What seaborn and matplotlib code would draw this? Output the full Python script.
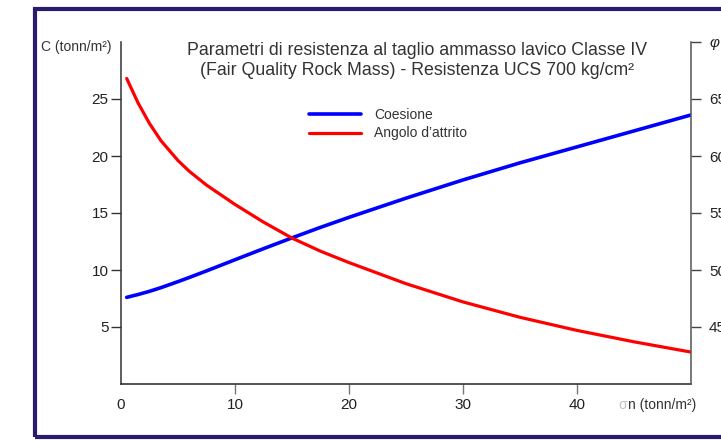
import numpy as np
import pandas as pd
import seaborn as sns
import matplotlib
matplotlib.use("Agg")
import matplotlib.pyplot as plt
from matplotlib.patches import Rectangle

# valori
sigma_n = [0.5, 1.5, 2.5, 3.5, 5, 6, 7.5, 10, 12.5, 15, 17.5, 20, 25, 30, 35, 40, 45, 50]
coesione = [7.6, 7.85, 8.13, 8.45, 8.98, 9.35, 9.92, 10.9, 11.87, 12.82, 13.74, 14.62,
            16.3, 17.9, 19.4, 20.8, 22.2, 23.6]
angolo = [66.8, 64.65, 62.85, 61.35, 59.6, 58.65, 57.45, 55.75, 54.2, 52.8, 51.65, 50.65,
          48.8, 47.2, 45.85, 44.7, 43.7, 42.8]

x_ticks = [0, 10, 20, 30, 40]
c_ticks = [5, 10, 15, 20, 25]
phi_ticks = [45, 50, 55, 60, 65, 70]
phi_labels = ["45", "50", "55", "60", "65", "φ"]

titolo = ("Parametri di resistenza al taglio ammasso lavico Classe IV\n"
          "(Fair Quality Rock Mass) - Resistenza UCS 700 kg/cm²")

df = pd.DataFrame({"sn": sigma_n, "C": coesione, "phi": angolo})

sns.set_theme(style="white")
plt.rcParams['font.family'] = ['Liberation Sans', 'DejaVu Sans']

W, H = 721, 441
fig = plt.figure(figsize=(W / 100, H / 100), dpi=100)
ax = fig.add_axes([121 / W, 1 - 384 / H, (691 - 121) / W, (384 - 42) / H])
ax2 = ax.twinx()

sns.lineplot(data=df, x="sn", y="C", ax=ax, color="#0000ff", linewidth=2.6,
             label="Coesione", legend=False, solid_joinstyle="round")
sns.lineplot(data=df, x="sn", y="phi", ax=ax2, color="#ff0000", linewidth=2.3,
             label="Angolo d’attrito", legend=False, solid_joinstyle="round")

ax.set_xlim(0, 50)
ax.set_ylim(0, 30)
ax2.set_ylim(40, 70)
ax.set_xlabel("")
ax.set_ylabel("")
ax2.set_ylabel("")

ax.set_xticks(x_ticks)
ax.set_xticklabels([str(v) for v in x_ticks])
ax.set_yticks(c_ticks)
ax.set_yticklabels([str(v) for v in c_ticks])
ax2.set_yticks(phi_ticks)
ax2.set_yticklabels(phi_labels)
ax2.get_yticklabels()[-1].set_color("#cccccc")
ax2.get_yticklabels()[-1].set_style("italic")

ax.tick_params(axis="x", direction="out", length=7, width=1.0, color="#777777",
               pad=3, labelsize=11, labelcolor="#222222", bottom=True)
ax.tick_params(axis="y", direction="out", length=7, width=1.0, color="#333333",
               pad=2, labelsize=11, labelcolor="#222222", left=True)
ax2.tick_params(axis="y", direction="out", length=7, width=1.0, color="#444444",
                pad=6, labelsize=11, labelcolor="#222222", right=True)
ax.xaxis.get_major_ticks()[0].tick1line.set_visible(False)

for a in (ax, ax2):
    a.spines["top"].set_visible(False)
    a.grid(False)
ax.spines["left"].set_color("#333333")
ax.spines["bottom"].set_color("#222222")
ax.spines["right"].set_visible(False)
ax2.spines["left"].set_visible(False)
ax2.spines["bottom"].set_visible(False)
ax2.spines["right"].set_color("#555555")
for s in ("left", "bottom"):
    ax.spines[s].set_linewidth(1.1)
ax2.spines["right"].set_linewidth(1.1)

# titolo e etichette assi
fig.text(417 / W, 1 - 42 / H, titolo, ha="center", va="top", fontsize=12.8,
         color="#333333", linespacing=1.25)
fig.text(112 / W, 1 - 47 / H, "C (tonn/m²)", ha="right", va="center",
         fontsize=10, color="#333333")
fig.text(627 / W, 1 - 405 / H, "σ", ha="right", va="center", fontsize=10, color="#c0c0c0")
fig.text(628 / W, 1 - 405 / H, "n (tonn/m²)", ha="left", va="center", fontsize=10, color="#333333")

h1, l1 = ax.get_legend_handles_labels()
h2, l2 = ax2.get_legend_handles_labels()
leg = fig.legend(h1 + h2, l1 + l2, loc="upper left", bbox_to_anchor=(303 / W, 1 - 102 / H),
                 frameon=False, fontsize=10, handlelength=3.8, handletextpad=0.9,
                 labelspacing=0.35, borderaxespad=0)
for t in leg.get_texts():
    t.set_color("#333333")

# cornice blu scuro
fig.patches.append(Rectangle((35 / W, 1 - 436.5 / H), 1.0, (436.5 - 8.5) / H,
                             transform=fig.transFigure, fill=False,
                             edgecolor="#2b1b6e", linewidth=3.0, zorder=10))

fig.savefig("out.png", dpi=100, facecolor="white")
